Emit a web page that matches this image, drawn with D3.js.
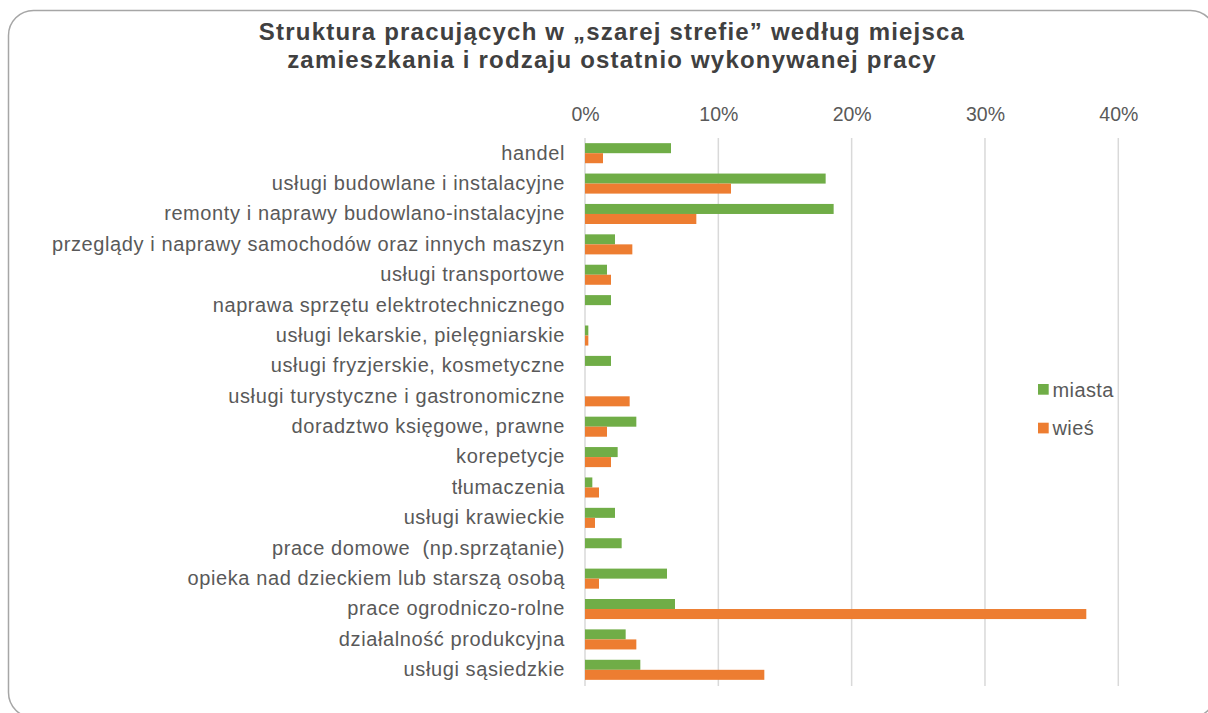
<!DOCTYPE html>
<html>
<head>
<meta charset="utf-8">
<script src="https://cdnjs.cloudflare.com/ajax/libs/d3/7.8.5/d3.min.js"></script>
<style>
  body { margin: 0; background: #fff; }
  svg { font-family: "Liberation Sans", Arial, sans-serif; }
</style>
</head>
<body>
<svg></svg>
<script>
var width = 1208;
var height = 713;
var svg = d3.select("svg")
            .attr("width", width)
            .attr("height", height);

var categories = [
  "handel",
  "usługi budowlane i instalacyjne",
  "remonty i naprawy budowlano-instalacyjne",
  "przeglądy i naprawy samochodów oraz innych maszyn",
  "usługi transportowe",
  "naprawa sprzętu elektrotechnicznego",
  "usługi lekarskie, pielęgniarskie",
  "usługi fryzjerskie, kosmetyczne",
  "usługi turystyczne i gastronomiczne",
  "doradztwo księgowe, prawne",
  "korepetycje",
  "tłumaczenia",
  "usługi krawieckie",
  "prace domowe  (np.sprzątanie)",
  "opieka nad dzieckiem lub starszą osobą",
  "prace ogrodniczo-rolne",
  "działalność produkcyjna",
  "usługi sąsiedzkie"
];

// percent values
var miasta = [6.45, 18.05, 18.65, 2.25, 1.65, 1.95, 0.25, 1.95, 0, 3.85, 2.45, 0.55, 2.25, 2.75, 6.15, 6.75, 3.05, 4.15];
var wies   = [1.35, 10.95, 8.35, 3.55, 1.95, 0, 0.25, 0, 3.35, 1.65, 1.95, 1.05, 0.75, 0, 1.05, 37.6, 3.85, 13.45];

var seriesNames = ["miasta", "wieś"];
var seriesColors = ["#70ad47", "#ed7d31"];
var ticks = [0, 10, 20, 30, 40];

var data = categories.map(function(c, i) {
  return { name: c, values: [miasta[i], wies[i]] };
});

// frame
svg.append("rect")
   .attr("x", 8.5)
   .attr("y", 10.5)
   .attr("width", 1207)
   .attr("height", 707)
   .attr("rx", 25)
   .attr("fill", "#fff")
   .attr("stroke", "#a6a6a6")
   .attr("stroke-width", 1.5);

var title = svg.append("text")
   .attr("text-anchor", "middle")
   .attr("fill", "#404040")
   .style("font-weight", "bold")
   .style("font-size", "24px")
   .style("letter-spacing", "1.2px");
title.append("tspan").attr("x", 612).attr("y", 39.5)
     .text("Struktura pracujących w „szarej strefie” według miejsca");
title.append("tspan").attr("x", 612).attr("y", 68)
     .text("zamieszkania i rodzaju ostatnio wykonywanej pracy");

var xScale = d3.scaleLinear()
               .domain([0, 40])
               .range([585, 1118.3]);

var yScale = d3.scaleBand()
               .domain(categories)
               .range([138, 685])
               .paddingInner(0.34)
               .paddingOuter(0.17);

var subScale = d3.scaleBand()
                 .domain([0, 1])
                 .range([0, yScale.bandwidth()]);

// gridlines
svg.append("g")
   .selectAll("line")
   .data(ticks)
   .enter()
   .append("line")
   .attr("x1", function(d) { return xScale(d); })
   .attr("x2", function(d) { return xScale(d); })
   .attr("y1", 138)
   .attr("y2", 686)
   .attr("stroke", "#d9d9d9")
   .attr("stroke-width", 1.5);

// top axis labels
var xAxis = svg.append("g")
   .attr("transform", "translate(0,121)")
   .call(d3.axisTop(xScale)
           .tickValues(ticks)
           .tickSize(0)
           .tickPadding(0)
           .tickFormat(function(d) { return d + "%"; }));
xAxis.select(".domain").remove();
xAxis.selectAll("text")
     .attr("fill", "#595959")
     .attr("dy", 0)
     .style("font-size", "19.5px")
     .style("font-family", "'Liberation Sans', Arial, sans-serif");

// category labels
var yAxis = svg.append("g")
   .attr("transform", "translate(565,0)")
   .call(d3.axisLeft(yScale).tickSize(0).tickPadding(0));
yAxis.select(".domain").remove();
yAxis.selectAll("text")
     .attr("fill", "#595959")
     .style("white-space", "pre")
     .style("font-size", "20px")
     .style("letter-spacing", "0.6px")
     .style("font-family", "'Liberation Sans', Arial, sans-serif");

// bars
var groups = svg.append("g")
   .selectAll("g")
   .data(data)
   .enter()
   .append("g")
   .attr("transform", function(d) { return "translate(0," + yScale(d.name) + ")"; });

groups.selectAll("rect")
   .data(function(d) { return d.values; })
   .enter()
   .append("rect")
   .attr("x", xScale(0))
   .attr("y", function(d, i) { return subScale(i); })
   .attr("width", function(d) { return xScale(d) - xScale(0); })
   .attr("height", subScale.bandwidth())
   .attr("fill", function(d, i) { return seriesColors[i]; });

// legend
var legend = svg.append("g")
   .selectAll("g")
   .data(seriesNames)
   .enter()
   .append("g")
   .attr("transform", function(d, i) { return "translate(1038," + (384 + i * 38.7) + ")"; });

legend.append("rect")
   .attr("width", 10.7)
   .attr("height", 10.7)
   .attr("fill", function(d, i) { return seriesColors[i]; });

legend.append("text")
   .attr("x", 14.5)
   .attr("y", 12.5)
   .attr("fill", "#595959")
   .style("font-size", "20px")
   .style("letter-spacing", "0.4px")
   .text(function(d) { return d; });
</script>
</body>
</html>
